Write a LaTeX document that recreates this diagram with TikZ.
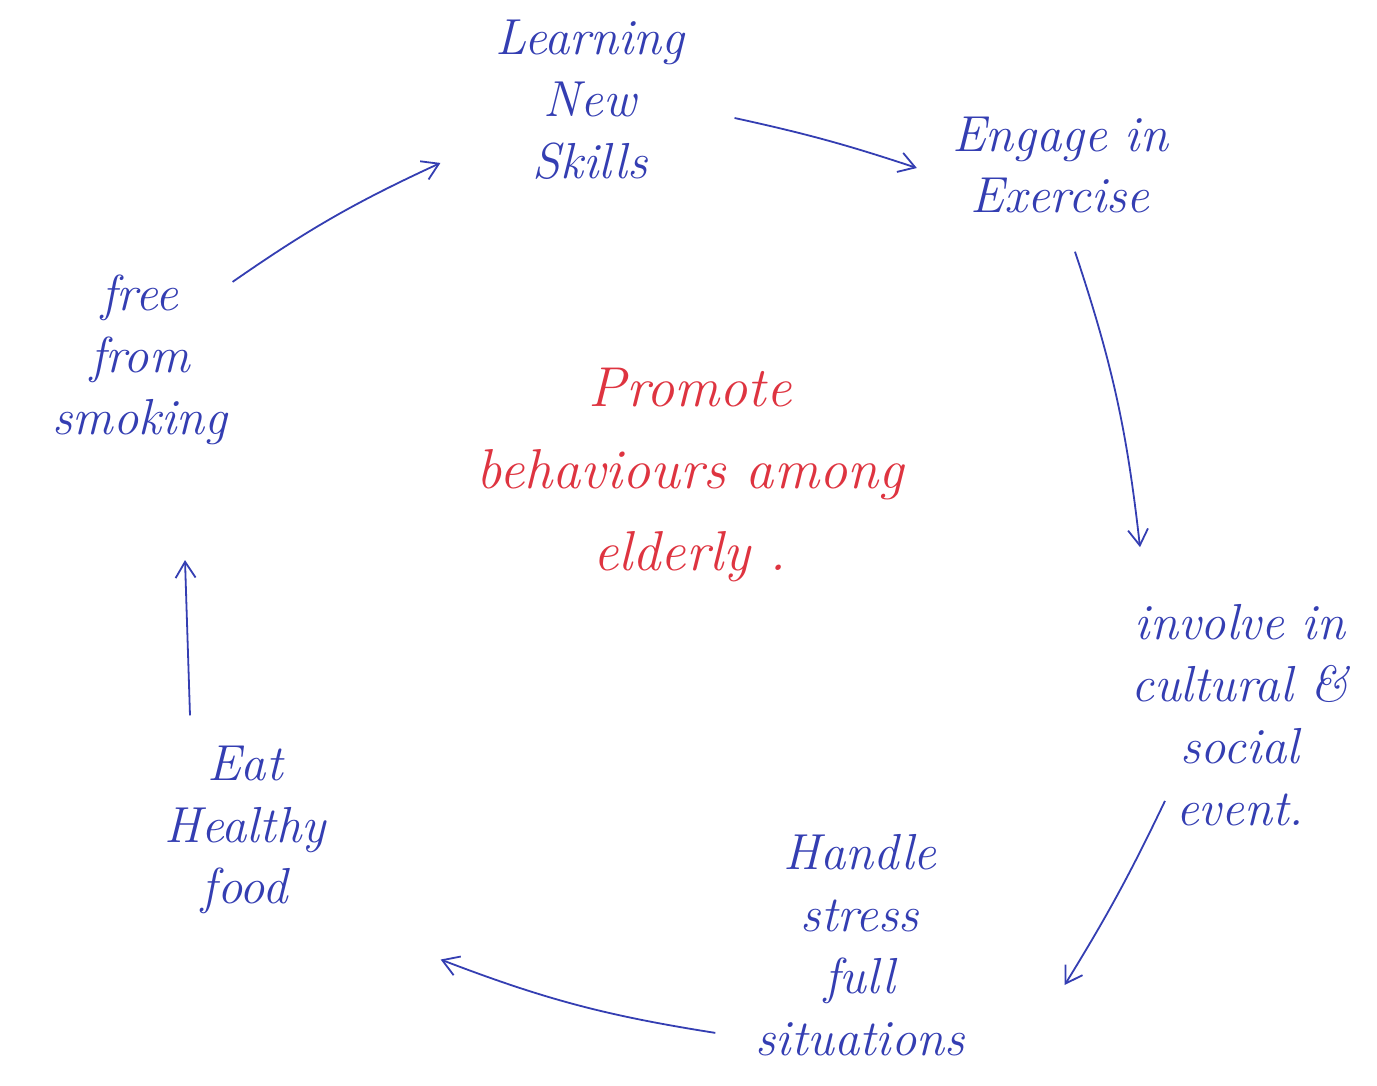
\documentclass[tikz,border=0pt]{standalone}
\usetikzlibrary{arrows.meta,positioning}
\definecolor{ink}{RGB}{52,62,178}
\definecolor{redink}{RGB}{222,52,64}
\tikzset{habit/.style={ink, font=\fontsize{36}{44}\selectfont\itshape, align=center, inner sep=0pt},
  flow/.style={ink, line width=0.45mm, -{Straight Barb[length=4mm, width=5mm]}}}

\begin{document}
\begin{tikzpicture}[x=0.25mm, y=-0.25mm]
  \useasboundingbox (0,0) rectangle (1377,1086);
  % six habits round the circle
  \node[habit] (learn) at (590,100) {Learning\\New\\Skills};
  \node[habit] (engage) at (1060,165) {Engage in\\Exercise};
  \node[habit] (involve) at (1240,715) {involve in\\cultural \&\\social\\event.};
  \node[habit] (handle) at (860,945) {Handle\\stress\\full\\situations};
  \node[habit] (eat) at (245,830) {Eat\\Healthy\\food};
  \node[habit] (free) at (140,360) {free\\from\\smoking};
  % centre
  \node[habit, redink, font=\fontsize{40}{58}\selectfont\itshape] (goal) at (690,475) {Promote\\behaviours among\\elderly .};
  % arrows
  \draw[flow] ([shift={(5,7)}]free.north east) to[bend left=5] ([shift={(-55,-17)}]learn.south west);
  \draw[flow] ([shift={(50,18)}]learn.east) to[bend left=3] ([shift={(-35,3)}]engage.west);
  \draw[flow] ([shift={(15,38)}]engage.south) to[bend left=6] ([shift={(-100,-57)}]involve.north);
  \draw[flow] ([shift={(-75,-25)}]involve.south) to[bend left=3] ([shift={(100,40)}]handle.east);
  \draw[flow] ([shift={(-40,-23)}]handle.south west) to[bend left=6] ([shift={(115,45)}]eat.south east);
  \draw[flow] ([shift={(-55,-30)}]eat.north) -- ([shift={(45,115)}]free.south);
\end{tikzpicture}
\end{document}
